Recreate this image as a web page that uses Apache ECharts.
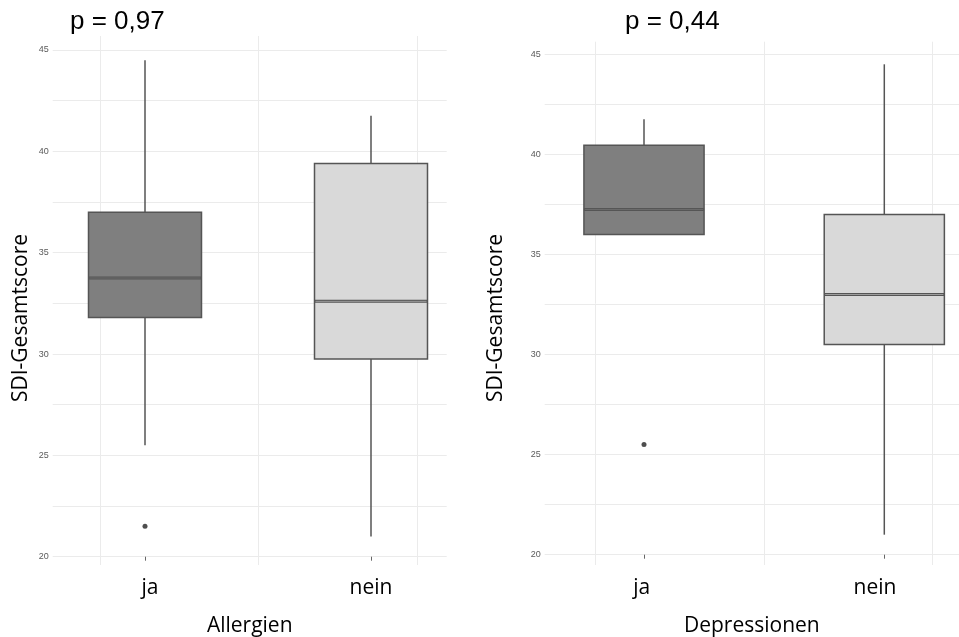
<!DOCTYPE html>
<html>
<head>
<meta charset="utf-8">
<script src="https://cdn.jsdelivr.net/npm/echarts@6/dist/echarts.min.js"></script>
<style>html,body{margin:0;padding:0;background:#fff;}#c{width:959px;height:637px;}</style>
</head>
<body>
<div id="c"></div>
<script>
// ---- data ----
const categories = ['ja', 'nein'];
const yTicks = [20, 25, 30, 35, 40, 45];
const yTitle = 'SDI-Gesamtscore';
// [min, Q1, median, Q3, max]
const allergienBox = [[25.5, 31.8, 33.75, 37.0, 44.5], [21.0, 29.75, 32.6, 39.4, 41.75]];
const allergienOutliers = [['ja', 21.5]];
const allergienP = 'p = 0,97';
const allergienName = 'Allergien';
const depressionenBox = [[36.0, 36.0, 37.25, 40.45, 41.75], [21.0, 30.5, 33.0, 37.0, 44.5]];
const depressionenOutliers = [['ja', 25.5]];
const depressionenP = 'p = 0,44';
const depressionenName = 'Depressionen';

const GRIDC = '#ebebeb';
const FONT = '"Open Sans", sans-serif';
const BOX_FILLS = ['#7f7f7f', '#d9d9d9'];
const LINE = '#555';

const grids = [], xAxes = [], yAxes = [], series = [], graphics = [];

function renderBox(params, api) {
  const x = api.value(0);
  const lo = api.coord([x, api.value(1)]);
  const q1 = api.coord([x, api.value(2)]);
  const md = api.coord([x, api.value(3)]);
  const q3 = api.coord([x, api.value(4)]);
  const hi = api.coord([x, api.value(5)]);
  const half = api.size([1, 0])[0] * 0.25;
  const cx = q1[0];
  const fill = BOX_FILLS[params.dataIndex % BOX_FILLS.length];
  return {
    type: 'group',
    children: [
      {type: 'line', shape: {x1: cx, y1: hi[1], x2: cx, y2: q3[1]}, style: {stroke: LINE, lineWidth: 1.5}},
      {type: 'line', shape: {x1: cx, y1: q1[1], x2: cx, y2: lo[1]}, style: {stroke: LINE, lineWidth: 1.5}},
      {type: 'rect', shape: {x: cx - half, y: q3[1], width: half * 2, height: q1[1] - q3[1]},
        style: {fill: fill, stroke: LINE, lineWidth: 1.5}},
      {type: 'line', shape: {x1: cx - half, y1: md[1], x2: cx + half, y2: md[1]}, style: {stroke: LINE, lineWidth: 3}},
      {type: 'line', shape: {x1: cx - half + 1, y1: md[1], x2: cx + half - 1, y2: md[1]}, style: {stroke: fill, lineWidth: 0.8, opacity: 0.7}}
    ]
  };
}

function mkGrid(l, t, w, h) {
  return {left: l, top: t, width: w, height: h, containLabel: false, outerBoundsMode: 'none'};
}

function panel(p) {
  const yMin = yTicks[0], yMax = yTicks[yTicks.length - 1];
  // horizontal grid + y labels + axis name
  let gi = grids.length;
  grids.push(mkGrid(p.hLeft, p.top, p.hWidth, p.height));
  xAxes.push({type: 'value', gridIndex: gi, min: 0, max: 1, show: true,
    axisLine: {show: false}, axisTick: {show: false}, axisLabel: {show: false}, splitLine: {show: false},
    name: p.name, nameLocation: 'middle', nameGap: p.nameGap,
    nameTextStyle: {fontFamily: FONT, fontSize: 21, color: '#000'}});
  yAxes.push({type: 'value', gridIndex: gi, min: yMin, max: yMax, interval: 2.5,
    axisLine: {show: false}, axisTick: {show: false},
    axisLabel: {margin: 4, fontSize: 9, color: '#5a5a5a', fontFamily: 'Liberation Sans, sans-serif',
      formatter: v => (yTicks.indexOf(v) >= 0 ? String(v) : '')},
    splitLine: {show: true, lineStyle: {color: GRIDC, width: 1}}});
  // vertical grid lines
  gi = grids.length;
  grids.push(mkGrid(p.vLeft, p.vTop, p.vWidth, p.vHeight));
  xAxes.push({type: 'value', gridIndex: gi, min: 0, max: 2, interval: 1,
    axisLine: {show: false}, axisTick: {show: false}, axisLabel: {show: false},
    splitLine: {show: true, lineStyle: {color: GRIDC, width: 1}}});
  yAxes.push({type: 'value', gridIndex: gi, min: 0, max: 1, show: false});
  // category labels (categories sit on the grid edges)
  gi = grids.length;
  grids.push(mkGrid(p.lLeft, p.top, p.lWidth, p.height));
  xAxes.push({type: 'category', gridIndex: gi, data: categories, boundaryGap: false,
    axisLine: {show: false}, axisTick: {show: false},
    axisLabel: {margin: p.labelMargin, fontFamily: FONT, fontSize: 21, color: '#000'}});
  yAxes.push({type: 'value', gridIndex: gi, min: yMin, max: yMax, show: false});
  // boxes
  gi = grids.length;
  grids.push(mkGrid(p.bLeft, p.top, p.bWidth, p.height));
  const xi = xAxes.length;
  xAxes.push({type: 'category', gridIndex: gi, data: categories, boundaryGap: false,
    axisLine: {show: false}, axisTick: {show: true, length: 4, lineStyle: {color: '#666'}},
    axisLabel: {show: false}, splitLine: {show: false}});
  yAxes.push({type: 'value', gridIndex: gi, min: yMin, max: yMax, show: false});
  series.push({type: 'custom', xAxisIndex: xi, yAxisIndex: xi, silent: true, clip: false,
    renderItem: renderBox,
    encode: {x: 0, y: [1, 2, 3, 4, 5]},
    data: p.box.map((v, i) => [i].concat(v))});
  series.push({type: 'scatter', xAxisIndex: xi, yAxisIndex: xi, symbolSize: 5, silent: true,
    itemStyle: {color: '#222'}, data: p.outliers});
  // texts
  graphics.push({type: 'text', left: p.pLeft, top: 9, style: {text: p.pText, font: '26px "Liberation Sans", Arial, sans-serif', fill: '#000'}});
  graphics.push({type: 'text', x: p.yTitleX, y: 318, rotation: Math.PI / 2,
    style: {text: yTitle, font: '21px "Open Sans", sans-serif', fill: '#000', align: 'center', verticalAlign: 'middle'}});
}

panel({box: allergienBox, outliers: allergienOutliers, pText: allergienP, name: allergienName,
  top: 50, height: 506.7, hLeft: 52.7, hWidth: 394, vLeft: 100, vWidth: 317.3, vTop: 36, vHeight: 529,
  lLeft: 150, lWidth: 221, bLeft: 145, bWidth: 226, nameGap: 59, labelMargin: 21, pLeft: 70, yTitleX: 21});
panel({box: depressionenBox, outliers: depressionenOutliers, pText: depressionenP, name: depressionenName,
  top: 54.3, height: 500.4, hLeft: 544.7, hWidth: 414.3, vLeft: 595.7, vWidth: 336.6, vTop: 41.7, vHeight: 523.3,
  lLeft: 641.7, lWidth: 233.3, bLeft: 644, bWidth: 240.3, nameGap: 61, labelMargin: 23, pLeft: 625, yTitleX: 496});

const chart = echarts.init(document.getElementById('c'), null, {renderer: 'canvas'});
chart.setOption({
  animation: false,
  backgroundColor: '#fff',
  grid: grids, xAxis: xAxes, yAxis: yAxes, series: series, graphic: graphics
});
</script>
</body>
</html>
